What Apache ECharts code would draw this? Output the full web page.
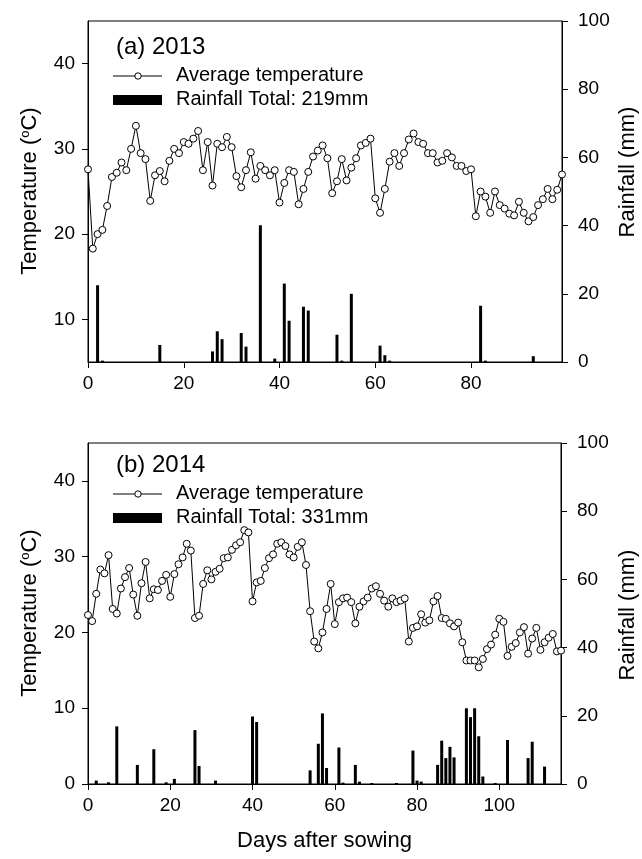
<!DOCTYPE html>
<html><head><meta charset="utf-8">
<script src="https://cdn.jsdelivr.net/npm/echarts@6/dist/echarts.min.js"></script>
<style>html,body{margin:0;padding:0;background:#fff}#c{width:642px;height:859px}</style>
</head><body><div id="c"></div>
<script>
// ---- data ----
const temp2013 = [27.6,18.3,20.0,20.5,23.3,26.7,27.2,28.4,27.5,30.0,32.7,29.5,28.8,23.9,26.9,27.4,26.2,28.6,30.0,29.5,
30.8,30.6,31.2,32.1,27.5,30.8,25.7,30.6,30.2,31.4,30.2,26.8,25.5,27.5,29.6,26.5,28.0,27.5,26.9,27.5,
23.7,26.0,27.5,27.3,23.5,25.3,27.3,29.1,29.8,30.4,28.9,24.8,26.2,28.8,26.3,27.8,28.9,30.4,30.7,31.2,
24.2,22.5,25.3,28.5,29.5,28.0,29.5,31.1,31.8,30.8,30.6,29.5,29.5,28.4,28.6,29.5,29.0,28.0,28.0,27.4,
27.6,22.1,25.0,24.4,22.5,25.0,23.4,23.0,22.4,22.2,23.8,22.5,21.5,22.0,23.4,24.1,25.3,24.1,25.2,27.0];
const rainDays2013 = [2,3,15,26,27,28,32,33,36,39,41,42,45,46,52,53,55,61,62,63,82,83,93];
const rain2013     = [22.5,0.4,5.0,3.1,9.0,6.7,8.5,4.5,40.1,1.0,23.0,12.1,16.2,15.1,8.0,0.4,20.0,4.8,2.0,0.4,16.5,0.4,1.7];

const temp2014 = [22.3,21.5,25.1,28.3,27.8,30.2,23.1,22.5,25.8,27.3,28.5,25.0,22.2,26.5,29.3,24.5,25.7,25.6,26.8,27.6,
24.7,27.7,29.0,29.9,31.7,30.8,21.9,22.2,26.4,28.2,27.0,28.0,28.4,29.8,29.9,30.9,31.5,31.9,33.5,33.2,
24.1,26.6,26.8,28.5,29.8,30.3,31.7,31.9,31.4,30.3,29.9,31.3,31.9,28.9,22.8,18.8,17.9,20.0,23.1,26.4,
21.1,24.0,24.5,24.6,24.0,21.2,23.4,24.1,24.6,25.8,26.1,25.1,24.2,23.4,24.5,24.0,24.2,24.5,18.8,20.6,
20.8,22.4,21.3,21.6,24.1,24.8,21.9,21.8,21.2,20.8,21.3,18.7,16.3,16.3,16.3,15.4,16.5,17.8,18.4,19.7,
21.8,21.4,16.9,18.1,18.6,20.0,20.7,17.2,19.2,20.6,17.7,18.7,19.3,19.8,17.5,17.6];
const rainDays2014 = [2,5,7,12,16,19,21,26,27,31,40,41,54,56,57,58,61,62,65,66,69,75,79,80,81,85,86,87,88,89,92,93,94,95,96,99,102,107,108,111];
const rain2014     = [1.0,0.5,16.9,5.6,10.2,0.5,1.5,15.8,5.3,1.0,19.8,18.2,4.0,11.8,20.7,4.7,10.7,0.4,5.6,0.7,0.3,0.3,9.8,1.0,0.7,5.6,12.7,7.6,10.9,7.8,22.2,19.6,22.2,14.0,2.2,0.3,12.9,7.6,12.4,5.1];

const xTicks2013 = [0,20,40,60,80];
const xTicks2014 = [0,20,40,60,80,100];
const tTicks2013 = [10,20,30,40];
const tTicks2014 = [0,10,20,30,40];
const rTicks = [0,20,40,60,80,100];

// ---- chart ----
const FONT = 'Liberation Sans, Arial, sans-serif';
const chart = echarts.init(document.getElementById('c'), null, {renderer:'canvas'});
const lab = (vals, extra) => Object.assign({customValues: vals, color:'#000', fontSize:19, fontFamily:FONT}, extra||{});
const tick = (vals) => ({show:true, customValues: vals, length:6, lineStyle:{color:'#000', width:1}});
const axLine = {show:true, onZero:false, lineStyle:{color:'#000', width:1}};

function xAx(g, max, ticks, extra){
  return Object.assign({gridIndex:g, type:'value', min:0, max:max, axisLine:axLine, axisTick:tick(ticks),
    axisLabel:lab(ticks,{margin:12}), splitLine:{show:false}}, extra||{});
}
function tAx(g, min, ticks){
  return {gridIndex:g, type:'value', min:min, max:45, position:'left', axisLine:axLine, axisTick:tick(ticks),
    axisLabel:lab(ticks,{margin:13}), splitLine:{show:false}};
}
function rAx(g){
  return {gridIndex:g, type:'value', min:0, max:100, position:'right', axisLine:axLine, axisTick:tick(rTicks),
    axisLabel:lab(rTicks,{margin:16}), splitLine:{show:false}};
}

const lineSeries = (xi, yi, data) => ({
  type:'line', xAxisIndex:xi, yAxisIndex:yi, data:data, symbol:'circle', symbolSize:7, showSymbol:true,
  lineStyle:{color:'#000', width:1}, itemStyle:{color:'#fff', borderColor:'#000', borderWidth:1}, z:5
});
const barSeries = (xi, yi, data) => ({
  type:'bar', xAxisIndex:xi, yAxisIndex:yi, data:data, barWidth:3, itemStyle:{color:'#000'}, z:3
});

const t13 = temp2013.map((v,i)=>[i,v]);
const t14 = temp2014.map((v,i)=>[i,v]);
const r13 = rainDays2013.map((d,i)=>[d,rain2013[i]]);
const r14 = rainDays2014.map((d,i)=>[d,rain2014[i]]);

function legend(top, title, total){
  const yT = top, yL = top + 28, yR = top + 52;
  return [
    {type:'text', left:116, top:yT-13, style:{text:title, font:'24px '+FONT, fill:'#000'}},
    {type:'line', shape:{x1:113,y1:yL,x2:162,y2:yL}, style:{stroke:'#000', lineWidth:1}},
    {type:'circle', shape:{cx:138,cy:yL,r:3.2}, style:{fill:'#fff', stroke:'#000', lineWidth:1}},
    {type:'text', left:176, top:yL-11, style:{text:'Average temperature', font:'20px '+FONT, fill:'#000'}},
    {type:'rect', shape:{x:113,y:yR-5,width:49,height:10}, style:{fill:'#000'}},
    {type:'text', left:176, top:yR-11, style:{text:'Rainfall Total: '+total, font:'20px '+FONT, fill:'#000'}}
  ];
}
function vText(text, cx, cy, rich){
  return {type:'text', x:cx, y:cy, rotation:Math.PI/2,
    style:{text:text, font:'22px '+FONT, fill:'#000', align:'center', verticalAlign:'middle', rich:rich||{}}};
}
const richT = {s:{fontSize:13, verticalAlign:'top', padding:[0,0,10,0], fontFamily:FONT}};

const option = {
  animation:false,
  backgroundColor:'#fff',
  textStyle:{fontFamily:FONT},
  grid:[
    {left:88, top:21, width:474, height:341, show:true, borderColor:'#000', borderWidth:1, backgroundColor:'transparent'},
    {left:88, top:443, width:473, height:341, show:true, borderColor:'#000', borderWidth:1, backgroundColor:'transparent'}
  ],
  xAxis:[
    xAx(0, 99, xTicks2013),
    xAx(1, 115, xTicks2014, {name:'Days after sowing', nameLocation:'middle', nameGap:46,
      nameTextStyle:{fontSize:22, color:'#000', fontFamily:FONT}})
  ],
  yAxis:[
    tAx(0, 5, tTicks2013),
    rAx(0),
    tAx(1, 0, tTicks2014),
    rAx(1)
  ],
  series:[
    barSeries(0,1,r13),
    lineSeries(0,0,t13),
    barSeries(1,3,r14),
    lineSeries(1,2,t14)
  ],
  graphic:[].concat(
    legend(48, '(a) 2013', '219mm'),
    legend(466, '(b) 2014', '331mm'),
    [
      vText('Temperature ({s|o}C)', 30, 191, richT),
      vText('Temperature ({s|o}C)', 30, 613, richT),
      vText('Rainfall (mm)', 628, 172),
      vText('Rainfall (mm)', 628, 615)
    ]
  )
};
chart.setOption(option);
</script></body></html>
